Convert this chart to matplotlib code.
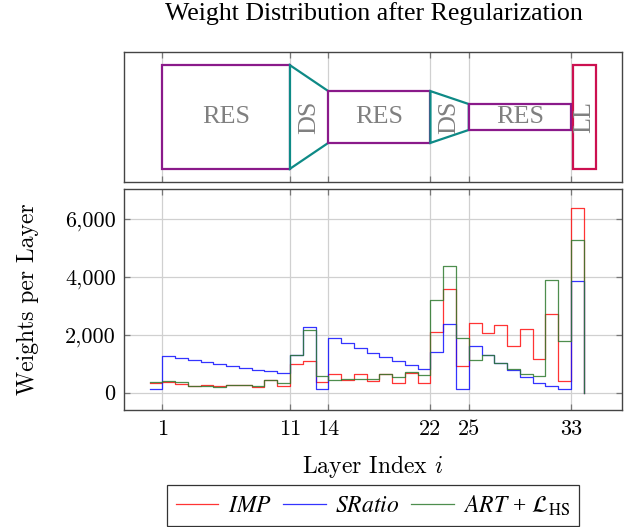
import numpy as np
import matplotlib
matplotlib.use('Agg')
import matplotlib.pyplot as plt
from matplotlib.patches import Polygon

# ─────────────────────────────────────────────
# Data
# ─────────────────────────────────────────────

LAYERS = np.arange(34)
XTICKS = [1, 11, 14, 22, 25, 33]
YTICKS = [0, 2000, 4000, 6000]

IMP = [345, 380, 287, 230, 276, 241, 253, 264, 207, 425, 241, 977, 1103,
       380, 644, 448, 655, 402, 644, 345, 667, 345, 2092, 3598, 920, 2402,
       2069, 2345, 1598, 2195, 1149, 2724, 402, 6379]
SRATIO = [115, 1264, 1195, 1126, 1046, 989, 920, 850, 782, 736, 678, 1287,
          2264, 115, 1897, 1701, 1540, 1368, 1230, 1080, 954, 816, 1402,
          2379, 115, 1621, 1310, 1034, 770, 540, 345, 218, 115, 3874]
ART = [360, 414, 380, 230, 241, 195, 253, 253, 230, 425, 333, 1310, 2172,
       575, 437, 460, 483, 460, 655, 540, 713, 598, 3218, 4379, 1874, 1115,
       1287, 1034, 828, 655, 575, 3897, 1782, 5276]

# architecture blocks: (label, x0, x1, half height at left, half height at right)
BLOCKS = [('RES', 1, 11, 0.4, 0.4),
          ('DS', 11, 14, 0.4, 0.2),
          ('RES', 14, 22, 0.2, 0.2),
          ('DS', 22, 25, 0.2, 0.1),
          ('RES', 25, 33, 0.1, 0.1),
          ('LL', 33.15, 35, 0.4, 0.4)]

COLORS = {'RES': '#8a1a8a', 'DS': '#0e8a86', 'LL': '#cc1050'}
SERIES_COLORS = {'imp': '#ff1010', 'sratio': '#1010ff', 'art': '#2f7a2f'}

# ─────────────────────────────────────────────
# Figure
# ─────────────────────────────────────────────

W, H = 629, 527
fig = plt.figure(figsize=(W / 100, H / 100), dpi=100)
plt.rcParams['mathtext.fontset'] = 'stix'
SERIF = 'Liberation Serif'

def px_rect(l, t, r, b):
    return [l / W, 1 - b / H, (r - l) / W, (b - t) / H]

ax_top = fig.add_axes(px_rect(124, 52.3, 622, 181.7))
ax = fig.add_axes(px_rect(124, 189.3, 622, 410))

XLIM = (-2, 37)
FRAME = '#444444'
GRID = '#d0d0d0'

for a in (ax_top, ax):
    a.set_xlim(*XLIM)
    a.set_xticks(XTICKS)
    a.grid(True, axis='x', color=GRID, linewidth=0.9)
    a.set_axisbelow(True)
    for s in a.spines.values():
        s.set_color(FRAME)
        s.set_linewidth(1.0)
    a.tick_params(axis='x', direction='in', top=True, bottom=True, length=4,
                  color='#777777', width=0.9)

# top panel: architecture sketch
ax_top.set_ylim(0, 1)
ax_top.set_yticks([])
ax_top.tick_params(axis='x', labelbottom=False)
for label, x0, x1, h0, h1 in BLOCKS:
    pts = [(x0, 0.5 - h0), (x1, 0.5 - h1), (x1, 0.5 + h1), (x0, 0.5 + h0)]
    ax_top.add_patch(Polygon(pts, closed=True, facecolor='white',
                             edgecolor=COLORS[label], linewidth=1.6, zorder=3))
    rot = 0 if label == 'RES' else 90
    ax_top.text((x0 + x1) / 2, 0.5, label, rotation=rot, ha='center', va='center',
                fontsize=18.8, color='#808080', family=SERIF, zorder=4)

# bottom panel: weights per layer
edges = np.append(LAYERS, LAYERS[-1] + 1)
for vals, key, lab in [(IMP, 'imp', r'$\mathit{IMP}$'),
                       (SRATIO, 'sratio', r'$\mathit{SRatio}$'),
                       (ART, 'art', r'$\mathit{ART}$ + $\mathcal{L}_{\mathrm{HS}}$')]:
    ax.step(edges, np.append(vals, 0), where='post', color=SERIES_COLORS[key],
            linewidth=0.9, alpha=0.85, label=lab)

ax.set_ylim(-600, 7030)
ax.set_yticks(YTICKS)
ax.grid(True, axis='y', color=GRID, linewidth=0.9)
ax.tick_params(axis='y', direction='in', left=True, right=True, length=4,
               color='#777777', width=0.9)
ax.set_xticklabels([str(t) for t in XTICKS], family='cmr10', fontsize=16)
ax.set_yticklabels([f'{t:,}' for t in YTICKS], family='cmr10', fontsize=16)
ax.tick_params(axis='x', pad=7)
ax.tick_params(axis='y', pad=6)
ax.set_xlabel('Layer Index $i$', family='cmr10', fontsize=17,
              math_fontfamily='cm', labelpad=10)
ax.set_ylabel('Weights per Layer', family='cmr10', fontsize=17, labelpad=19)

fig.text(374 / W, 1 - 20 / H, 'Weight Distribution after Regularization',
         ha='center', va='baseline', fontsize=18.6, family=SERIF)

leg = fig.legend(loc='upper center', bbox_to_anchor=(373 / W, 1 - 485 / H),
                 ncol=3, frameon=True, fancybox=False, edgecolor='black',
                 prop={'family': SERIF, 'size': 17}, handlelength=1.8,
                 columnspacing=0.5, handletextpad=0.4, borderpad=0.35,
                 borderaxespad=0)
leg.get_frame().set_linewidth(0.9)

fig.savefig('out.png', dpi=100)
